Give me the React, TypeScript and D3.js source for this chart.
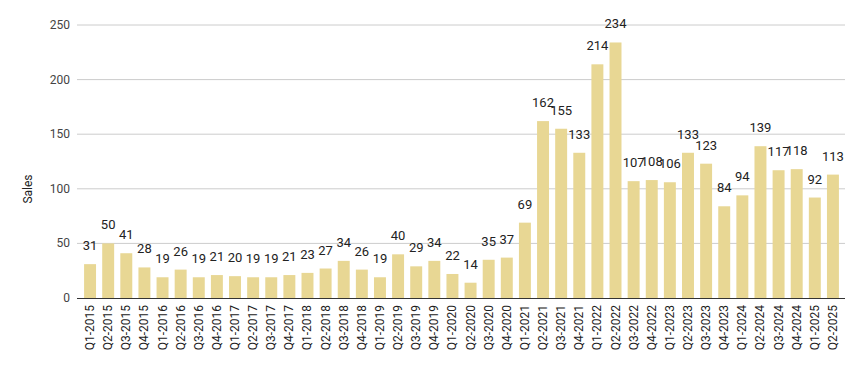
import { useEffect, useRef } from "react";
import * as d3 from "d3";

const quarters = [
  "Q1-2015", "Q2-2015", "Q3-2015", "Q4-2015",
  "Q1-2016", "Q2-2016", "Q3-2016", "Q4-2016",
  "Q1-2017", "Q2-2017", "Q3-2017", "Q4-2017",
  "Q1-2018", "Q2-2018", "Q3-2018", "Q4-2018",
  "Q1-2019", "Q2-2019", "Q3-2019", "Q4-2019",
  "Q1-2020", "Q2-2020", "Q3-2020", "Q4-2020",
  "Q1-2021", "Q2-2021", "Q3-2021", "Q4-2021",
  "Q1-2022", "Q2-2022", "Q3-2022", "Q4-2022",
  "Q1-2023", "Q2-2023", "Q3-2023", "Q4-2023",
  "Q1-2024", "Q2-2024", "Q3-2024", "Q4-2024",
  "Q1-2025", "Q2-2025",
];

const sales = [
  31, 50, 41, 28,
  19, 26, 19, 21,
  20, 19, 19, 21,
  23, 27, 34, 26,
  19, 40, 29, 34,
  22, 14, 35, 37,
  69, 162, 155, 133,
  214, 234, 107, 108,
  106, 133, 123, 84,
  94, 139, 117, 118,
  92, 113,
];

const yTicks = [0, 50, 100, 150, 200, 250];

const W = 864;
const H = 371;
const FONT = "Roboto, Arial, sans-serif";

export default function App() {
  const ref = useRef<SVGSVGElement>(null);

  useEffect(() => {
    const svg = d3.select(ref.current);
    svg.selectAll("*").remove();

    const left = 77;
    const right = 845;
    const y0 = 298;
    const yTop = 25;

    const x = d3
      .scaleBand<string>()
      .domain(quarters)
      .range([81, 842])
      .paddingInner(0.34)
      .paddingOuter(0.17);

    const y = d3.scaleLinear().domain([0, 250]).range([y0, yTop]);

    // gridlines + tick labels
    const grid = svg.append("g");
    grid
      .selectAll("line")
      .data(yTicks.filter((t) => t > 0))
      .enter()
      .append("line")
      .attr("x1", left)
      .attr("x2", right)
      .attr("y1", (d) => y(d))
      .attr("y2", (d) => y(d))
      .attr("stroke", "#cccccc")
      .attr("stroke-width", 1);

    grid
      .selectAll("text")
      .data(yTicks)
      .enter()
      .append("text")
      .attr("x", 70)
      .attr("y", (d) => y(d) + 4)
      .attr("text-anchor", "end")
      .attr("font-family", FONT)
      .attr("font-size", 12)
      .attr("fill", "#444")
      .text((d) => d);

    // bars
    svg
      .append("g")
      .selectAll("rect")
      .data(sales)
      .enter()
      .append("rect")
      .attr("x", (d, i) => x(quarters[i])!)
      .attr("y", (d) => y(d))
      .attr("width", x.bandwidth())
      .attr("height", (d) => y0 - y(d))
      .attr("fill", "#e8d794");

    // baseline
    svg
      .append("line")
      .attr("x1", left)
      .attr("x2", right)
      .attr("y1", y0 + 0.5)
      .attr("y2", y0 + 0.5)
      .attr("stroke", "#333")
      .attr("stroke-width", 1);

    // value labels
    svg
      .append("g")
      .selectAll("text")
      .data(sales)
      .enter()
      .append("text")
      .attr("x", (d, i) => x(quarters[i])! + x.bandwidth() / 2)
      .attr("y", (d) => y(d) - 14)
      .attr("text-anchor", "middle")
      .attr("font-family", FONT)
      .attr("font-size", 13)
      .attr("fill", "#222")
      .text((d) => d);

    // category labels
    svg
      .append("g")
      .selectAll("text")
      .data(quarters)
      .enter()
      .append("text")
      .attr("transform", (d) => {
        const cx = x(d)! + x.bandwidth() / 2 + 4;
        return `translate(${cx},305) rotate(-90)`;
      })
      .attr("text-anchor", "end")
      .attr("font-family", FONT)
      .attr("font-size", 12)
      .attr("fill", "#222")
      .text((d) => d);

    // y axis title
    svg
      .append("text")
      .attr("transform", "translate(32,189) rotate(-90)")
      .attr("text-anchor", "middle")
      .attr("font-family", FONT)
      .attr("font-size", 12)
      .attr("fill", "#222")
      .text("Sales");
  }, []);

  return (
    <svg
      ref={ref}
      width={W}
      height={H}
      style={{ position: "absolute", left: 0, top: 0, background: "#fff" }}
    />
  );
}
